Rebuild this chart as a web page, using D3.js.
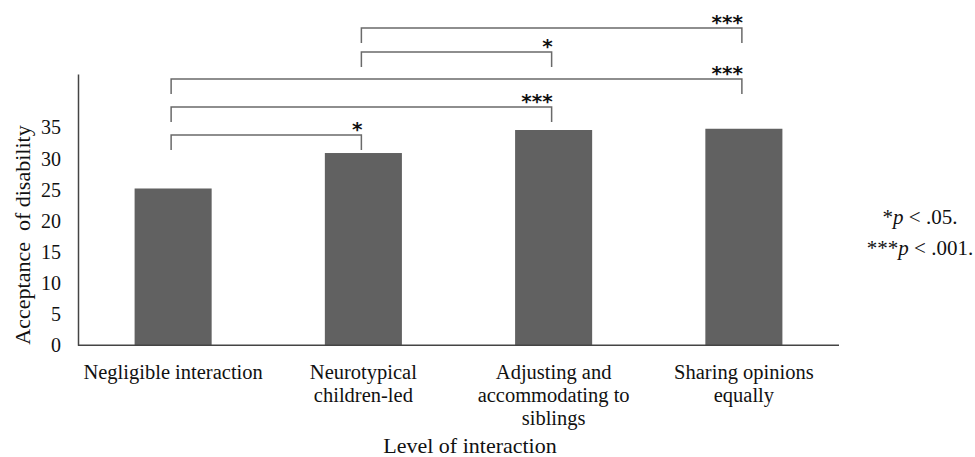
<!DOCTYPE html>
<html>
<head>
<meta charset="utf-8">
<script src="https://cdn.jsdelivr.net/npm/d3@7"></script>
<style>
  body { margin: 0; background: #fff; }
  svg text { font-family: "Liberation Serif", "Times New Roman", serif; fill: #111; }
</style>
</head>
<body>
<svg id="chart"></svg>
<script>
// data
const categories = [
    ["Negligible interaction"],
    ["Neurotypical", "children-led"],
    ["Adjusting and", "accommodating to", "siblings"],
    ["Sharing opinions", "equally"]
];
const values = [25.2, 30.9, 34.6, 34.8];
const yTicks = [0, 5, 10, 15, 20, 25, 30, 35];

// significance brackets: [from index, to index, stars], top to bottom
const comparisons = [
    [1, 3, "***"],
    [1, 2, "*"],
    [0, 3, "***"],
    [0, 2, "***"],
    [0, 1, "*"]
];
const bracketLevels = [28, 52, 79, 107, 135];
const notes = [["*", "p", " < .05."], ["***", "p", " < .001."]];

const width = 975, height = 457;
const margin = { top: 74, left: 78, right: 136, bottom: 112 };

const svg = d3.select("#chart")
    .attr("width", width)
    .attr("height", height);

const x = d3.scaleBand()
    .domain(d3.range(categories.length))
    .range([margin.left, width - margin.right])
    .paddingInner(0.595)
    .paddingOuter(0.2975);

const y = d3.scaleLinear()
    .domain([0, 43.6])
    .range([height - margin.bottom + 0.3, margin.top]);

// bars
svg.selectAll("rect.bar")
    .data(values)
    .enter()
    .append("rect")
    .attr("class", "bar")
    .attr("x", (d, i) => x(i))
    .attr("y", d => y(d))
    .attr("width", x.bandwidth())
    .attr("height", d => y(0) - y(d))
    .attr("fill", "#616161");

// axes
const yAxis = d3.axisLeft(y).tickValues(yTicks).tickSize(0).tickPadding(17);
const yG = svg.append("g")
    .attr("transform", `translate(${margin.left},0)`)
    .call(yAxis);
yG.select(".domain").attr("stroke", "#444").attr("stroke-width", 1.5);
yG.selectAll("text")
    .style("font-size", "20px")
    .style("font-family", "'Liberation Serif', serif")
    .attr("fill", "#111");

svg.append("line")
    .attr("x1", margin.left)
    .attr("x2", width - margin.right)
    .attr("y1", y(0))
    .attr("y2", y(0))
    .attr("stroke", "#444")
    .attr("stroke-width", 1.5);

// category labels
const catG = svg.append("g");
categories.forEach((lines, i) => {
    const t = catG.append("text")
        .attr("text-anchor", "middle")
        .style("font-size", "20.5px");
    lines.forEach((ln, j) => {
        t.append("tspan")
            .attr("x", x(i) + x.bandwidth() / 2)
            .attr("y", 379 + j * 23)
            .text(ln);
    });
});

// axis titles
svg.append("text")
    .attr("transform", `translate(30,235) rotate(-90)`)
    .attr("text-anchor", "middle")
    .style("font-size", "22px")
    .style("white-space", "pre")
    .text("Acceptance  of disability");

svg.append("text")
    .attr("x", 470)
    .attr("y", 453)
    .attr("text-anchor", "middle")
    .style("font-size", "22px")
    .text("Level of interaction");

// brackets
const cx = i => x(i) + x.bandwidth() / 2 - 2;
comparisons.forEach((c, k) => {
    const ly = bracketLevels[k];
    const x0 = cx(c[0]), x1 = cx(c[1]);
    svg.append("path")
        .attr("d", `M${x0},${ly + 15}V${ly}H${x1}V${ly + 15}`)
        .attr("fill", "none")
        .attr("stroke", "#6a6a6a")
        .attr("stroke-width", 1.5);
    svg.append("text")
        .attr("x", x1 + 1)
        .attr("y", ly + 1)
        .attr("text-anchor", "end")
        .style("font-family", "'DejaVu Sans', sans-serif")
        .style("font-weight", "bold")
        .style("font-size", "20px")
        .text(c[2]);
});

// p-value notes
notes.forEach((n, i) => {
    const t = svg.append("text")
        .attr("x", 920)
        .attr("y", 224 + i * 31)
        .attr("text-anchor", "middle")
        .style("font-size", "21px");
    t.append("tspan").text(n[0]);
    t.append("tspan").style("font-style", "italic").text(n[1]);
    t.append("tspan").text(n[2]);
});
</script>
</body>
</html>
